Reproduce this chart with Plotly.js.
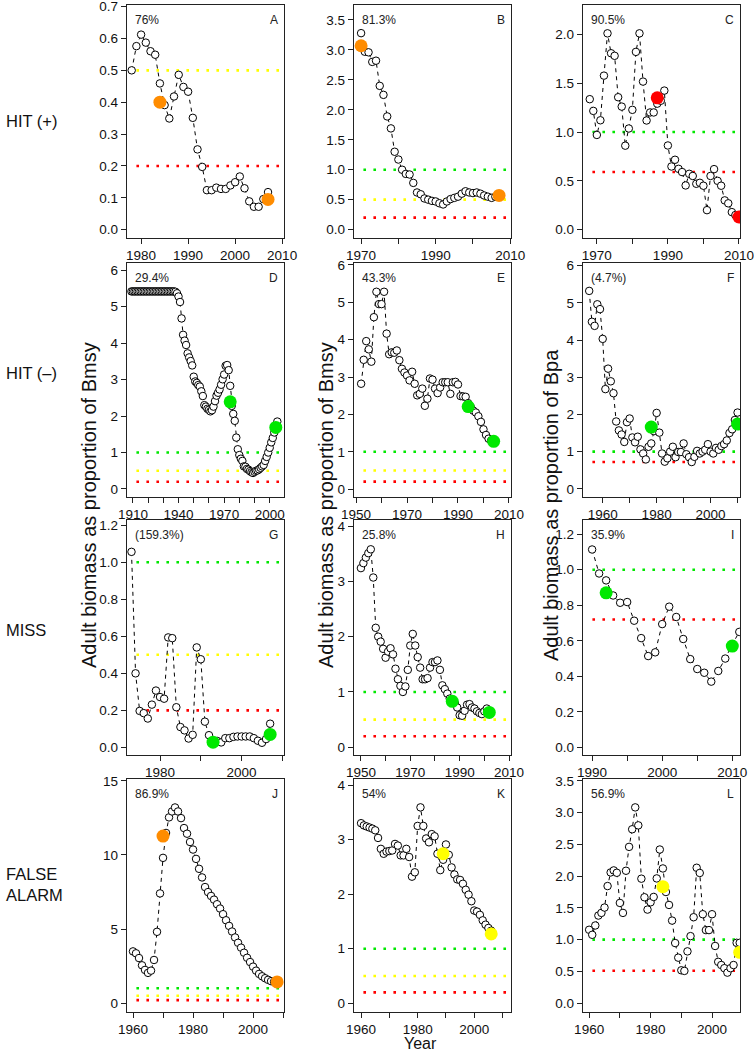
<!DOCTYPE html>
<html><head><meta charset="utf-8">
<script src="https://cdn.plot.ly/plotly-3.0.1.min.js"></script>
<style>html,body{margin:0;padding:0;background:#fff;}#chart{width:754px;height:1052px;}</style>
</head><body><div id="chart"></div>
<script>
// ---------------- DATA ----------------
const startA = 1978;
const biomassA = [0.50,0.576,0.612,0.587,0.56,0.549,0.459,0.391,0.349,0.418,0.486,0.448,0.433,0.351,0.252,0.197,0.124,0.124,0.132,0.128,0.128,0.139,0.149,0.167,0.13,0.089,0.072,0.072,0.096,0.118];
const markYearsA = [1984, 2007], markValsA = [0.40, 0.095];
const refA = [0.5, 0.2];

const startB = 1970;
const biomassB = [3.28,2.97,2.96,2.80,2.82,2.40,2.25,1.89,1.69,1.30,1.17,1.00,0.93,0.92,0.78,0.62,0.59,0.52,0.50,0.48,0.47,0.44,0.42,0.47,0.51,0.53,0.55,0.60,0.64,0.62,0.61,0.62,0.60,0.57,0.55,0.53,0.55,0.56];
const markYearsB = [1970, 2007], markValsB = [3.07, 0.57];
const refB = [1.0, 0.5, 0.2];

const startC = 1968;
const biomassC = [1.336,1.216,0.97,1.12,1.577,2.01,1.806,1.78,1.356,1.26,0.86,1.036,1.227,1.82,2.01,1.516,1.118,1.2,1.2,1.29,1.32,1.424,0.862,0.647,0.716,0.623,0.59,0.453,0.572,0.55,0.47,0.48,0.45,0.2,0.55,0.62,0.5,0.45,0.3,0.27,0.18,0.15,0.13];
const markYearsC = [1987, 2010], markValsC = [1.35, 0.13];
const refC = [1.0, 0.59];

const startD = 1909;
const biomassD = [5.42,5.42,5.42,5.42,5.42,5.42,5.42,5.42,5.42,5.42,5.42,5.42,5.42,5.42,5.42,5.42,5.42,5.42,5.42,5.42,5.42,5.42,5.42,5.42,5.42,5.42,5.42,5.42,5.42,
  5.41,5.37,5.28,5.13,4.68,4.23,4.07,3.95,3.72,3.61,3.51,3.39,3.08,2.95,2.91,2.85,2.81,2.68,2.55,2.30,2.26,2.20,2.17,2.13,2.16,2.26,2.41,2.56,2.64,2.73,2.86,3.01,3.14,3.38,3.40,3.26,2.83,2.28,2.06,1.87,1.41,1.09,0.93,0.83,0.77,0.62,0.61,0.55,0.53,0.49,0.46,0.44,0.47,0.50,0.51,0.54,0.58,0.62,0.66,0.77,0.88,1.00,1.13,1.28,1.40,1.55,1.72,1.85];
const markYearsD = [1974, 2004], markValsD = [2.39, 1.69];
const refD = [1.0, 0.5, 0.2];

const startE = 1952;
const biomassE = [2.82,3.46,3.96,3.74,3.41,4.60,5.28,4.95,4.95,5.28,4.16,3.61,3.66,3.65,3.71,3.45,3.22,3.12,3.04,2.91,3.14,2.82,2.51,2.55,2.69,2.23,2.42,2.96,2.93,2.69,2.57,2.72,2.86,2.86,2.86,2.55,2.86,2.87,2.80,2.49,2.48,2.47,2.30,2.20,2.10,2.05,1.95,1.80,1.60,1.45,1.35,1.30,1.25];
const markYearsE = [1994, 2004], markValsE = [2.21, 1.28];
const refE = [1.0, 0.5, 0.2];

const startF = 1955;
const biomassF = [5.32,4.49,4.38,4.96,4.83,4.03,2.68,3.23,2.89,2.57,1.81,1.57,1.46,1.26,1.79,1.89,1.38,1.25,1.40,1.06,0.95,0.79,1.13,1.22,1.55,2.04,1.51,0.95,0.73,0.82,1.00,1.13,0.85,0.99,0.99,1.22,0.93,0.85,0.72,0.86,1.02,0.95,1.0,1.05,1.2,1.0,0.95,1.1,1.05,1.15,1.2,1.3,1.5,1.6,1.85,2.05];
const markYearsF = [1978, 2010], markValsF = [1.66, 1.74];
const refF = [1.0, 0.72];

const startG = 1973;
const biomassG = [1.056,0.40,0.197,0.185,0.156,0.231,0.307,0.272,0.263,0.594,0.590,0.217,0.110,0.092,0.048,0.068,0.540,0.476,0.139,0.066,0.035,0.035,0.027,0.05,0.05,0.057,0.059,0.059,0.059,0.059,0.05,0.036,0.025,0.045,0.128];
const markYearsG = [1993, 2007], markValsG = [0.028, 0.07];
const refG = [1.0, 0.5, 0.2];

const startH = 1950;
const biomassH = [3.24,3.33,3.43,3.51,3.58,3.07,2.16,2.00,1.91,1.78,1.62,1.73,1.79,1.68,1.42,1.23,1.11,1.00,1.10,1.40,1.84,2.05,1.84,1.63,1.44,1.23,1.23,1.25,1.44,1.54,1.54,1.57,1.40,1.12,1.05,0.97,0.88,0.83,0.80,0.72,0.58,0.57,0.66,0.77,0.78,0.72,0.70,0.65,0.62,0.60,0.65,0.70];
const markYearsH = [1987, 2002], markValsH = [0.83, 0.63];
const refH = [1.0, 0.5, 0.2];

const startI = 1990;
const biomassI = [1.114,0.979,0.94,0.855,0.814,0.818,0.713,0.615,0.514,0.535,0.694,0.792,0.734,0.61,0.497,0.441,0.42,0.37,0.43,0.5,0.58,0.65];
const markYearsI = [1992, 2010], markValsI = [0.87, 0.57];
const refI = [1.0, 0.72];

const startJ = 1960;
const biomassJ = [3.49,3.36,3.04,2.55,2.24,2.04,2.19,2.91,4.81,7.40,9.80,11.48,12.53,12.93,13.2,12.93,12.48,11.81,11.43,10.87,10.36,9.73,9.06,8.48,7.83,7.49,7.23,6.98,6.67,6.38,6.0,5.59,5.21,4.83,4.43,4.07,3.74,3.40,3.06,2.77,2.46,2.19,1.97,1.81,1.68,1.57,1.48,1.44,1.42];
const markYearsJ = [1970, 2008], markValsJ = [11.27, 1.43];
const refJ = [1.0, 0.5, 0.2];

const startK = 1960;
const biomassK = [3.30,3.26,3.24,3.22,3.20,3.17,3.03,2.83,2.74,2.78,2.79,2.80,2.92,2.89,2.71,2.71,2.83,2.68,2.32,2.40,3.25,3.59,3.25,3.02,2.95,3.10,3.06,2.74,2.44,2.63,2.91,2.72,2.49,2.36,2.27,2.26,2.19,2.08,1.99,1.87,1.70,1.68,1.62,1.52,1.44,1.38,1.33];
const markYearsK = [1989, 2006], markValsK = [2.74, 1.27];
const refK = [1.0, 0.5, 0.2];

const startL = 1960;
const biomassL = [1.155,1.076,1.223,1.379,1.421,1.505,1.844,2.058,2.09,2.053,1.578,1.421,2.085,2.461,2.738,3.083,2.8,1.96,1.667,1.473,1.588,1.672,1.964,2.419,2.121,1.75,1.546,1.30,0.946,0.716,0.517,0.507,0.815,1.055,1.353,2.132,2.05,1.4,1.15,1.15,1.4,0.9,0.65,0.6,0.55,0.48,0.55,0.6,0.95,0.95];
const markYearsL = [1984, 2009], markValsL = [1.834, 0.8];
const refL = [1.0, 0.51];

const percentLabels = ['76%','81.3%','90.5%','29.4%','43.3%','(4.7%)','(159.3%)','25.8%','35.9%','86.9%','54%','56.9%'];
const panelLetters = ['A','B','C','D','E','F','G','H','I','J','K','L'];
const rowLabels = ['HIT (+)','HIT (–)','MISS','FALSE<br>ALARM'];
const yTitles = ['Adult biomass as proportion of Bmsy','Adult biomass as proportion of Bmsy','Adult biomass as proportion of Bpa'];
const xTitle = 'Year';

// ---------------- STYLE / LAYOUT ----------------
const W = 754, H = 1052;
const COL = {orange:'#FF8C00', red:'#FF0000', green:'#00E800', yellow:'#FFFF00'};
const colsPx = [[127,284],[354,511],[583,740]];
const rowsPx = [[5,238],[263,497],[520,755],[779,1012]];

function yticks(lo, hi, step, dec) {
  const v = [], t = [];
  for (let k = 0; lo + k*step <= hi + 1e-9; k++) { const val = +(lo + k*step).toFixed(4); v.push(val); t.push(val.toFixed(dec)); }
  return {v, t};
}

const panels = [
  {s:startA,v:biomassA,my:markYearsA,mv:markValsA,mc:COL.orange,ref:refA,refc:[COL.yellow,COL.red],xr:[1977.0,2010.4],yr:[-0.026,0.705],yt:yticks(0,0.7,0.1,1),xt:[1980,1990,2000,2010],xl:['1980','1990','2000','2010']},
  {s:startB,v:biomassB,my:markYearsB,mv:markValsB,mc:COL.orange,ref:refB,refc:[COL.green,COL.yellow,COL.red],xr:[1968.1,2010.2],yr:[-0.14,3.75],yt:yticks(0,3.5,0.5,1),xt:[1970,1980,1990,2000,2010],xl:['1970','','1990','','2010']},
  {s:startC,v:biomassC,my:markYearsC,mv:markValsC,mc:COL.red,ref:refC,refc:[COL.green,COL.red],xr:[1966.1,2010.3],yr:[-0.085,2.30],yt:yticks(0,2.0,0.5,1),xt:[1970,1980,1990,2000,2010],xl:['1970','','1990','','2010']},
  {s:startD,v:biomassD,my:markYearsD,mv:markValsD,mc:COL.green,ref:refD,refc:[COL.green,COL.yellow,COL.red],xr:[1906.1,2009.4],yr:[-0.22,6.2],yt:yticks(0,6,1,0),xt:[1910,1920,1930,1940,1950,1960,1970,1980,1990,2000],xl:['1910','','','1940','','','1970','','','2000']},
  {s:startE,v:biomassE,my:markYearsE,mv:markValsE,mc:COL.green,ref:refE,refc:[COL.green,COL.yellow,COL.red],xr:[1949.2,2010.8],yr:[-0.21,6.05],yt:yticks(0,6,1,0),xt:[1950,1960,1970,1980,1990,2000,2010],xl:['1950','','1970','','1990','','2010']},
  {s:startF,v:biomassF,my:markYearsF,mv:markValsF,mc:COL.green,ref:refF,refc:[COL.green,COL.red],xr:[1952.7,2010.9],yr:[-0.22,6.07],yt:yticks(0,6,1,0),xt:[1960,1970,1980,1990,2000,2010],xl:['1960','','1980','','2000','']},
  {s:startG,v:biomassG,my:markYearsG,mv:markValsG,mc:COL.green,ref:refG,refc:[COL.green,COL.yellow,COL.red],xr:[1971.9,2010.4],yr:[-0.041,1.228],yt:yticks(0,1.2,0.2,1),xt:[1980,1990,2000,2010],xl:['1980','','2000','']},
  {s:startH,v:biomassH,my:markYearsH,mv:markValsH,mc:COL.green,ref:refH,refc:[COL.green,COL.yellow,COL.red],xr:[1947.2,2010.8],yr:[-0.14,4.11],yt:yticks(0,4,1,0),xt:[1950,1960,1970,1980,1990,2000,2010],xl:['1950','','1970','','1990','','2010']},
  {s:startI,v:biomassI,my:markYearsI,mv:markValsI,mc:COL.green,ref:refI,refc:[COL.green,COL.red],xr:[1988.7,2011.1],yr:[-0.043,1.28],yt:yticks(0,1.2,0.2,1),xt:[1990,1995,2000,2005,2010],xl:['1990','','2000','','2010']},
  {s:startJ,v:biomassJ,my:markYearsJ,mv:markValsJ,mc:COL.orange,ref:refJ,refc:[COL.green,COL.yellow,COL.red],xr:[1958,2010.3],yr:[-0.6,15.12],yt:yticks(0,15,5,0),xt:[1960,1970,1980,1990,2000,2010],xl:['1960','','1980','','2000','']},
  {s:startK,v:biomassK,my:markYearsK,mv:markValsK,mc:COL.yellow,ref:refK,refc:[COL.green,COL.yellow,COL.red],xr:[1957.5,2013.0],yr:[-0.16,4.11],yt:yticks(0,4,1,0),xt:[1960,1970,1980,1990,2000,2010],xl:['1960','','1980','','2000','']},
  {s:startL,v:biomassL,my:markYearsL,mv:markValsL,mc:COL.yellow,ref:refL,refc:[COL.green,COL.red],xr:[1958,2009.1],yr:[-0.14,3.53],yt:yticks(0,3.5,0.5,1),xt:[1960,1970,1980,1990,2000],xl:['1960','','1980','','2000']}
];

const FONT = 'Liberation Sans, Arial, Helvetica, sans-serif';
const traces = [], shapes = [], annotations = [];
const layout = {width:W, height:H, margin:{l:0,r:0,t:0,b:0}, showlegend:false,
  paper_bgcolor:'#fff', plot_bgcolor:'#fff', font:{family:FONT, size:13.5, color:'#111'}};

panels.forEach((p, i) => {
  const r = Math.floor(i/3), c = i%3;
  const n = i === 0 ? '' : String(i+1);
  const xa = 'x'+n, ya = 'y'+n;
  const years = p.v.map((_, k) => p.s + k);
  const common = {showline:true, mirror:true, linecolor:'#222', linewidth:1.2, ticks:'outside', ticklen:5,
    tickcolor:'#222', tickwidth:1, showgrid:false, zeroline:false, tickfont:{size:13.5, family:FONT, color:'#111'},
    ticklabeloverflow:'allow'};
  layout['xaxis'+n] = Object.assign({}, common, {domain:[colsPx[c][0]/W, colsPx[c][1]/W], range:p.xr, anchor:ya,
    tickmode:'array', tickvals:p.xt, ticktext:p.xl});
  layout['yaxis'+n] = Object.assign({}, common, {domain:[1-rowsPx[r][1]/H, 1-rowsPx[r][0]/H], range:p.yr, anchor:xa,
    tickmode:'array', tickvals:p.yt.v, ticktext:p.yt.t});
  p.ref.forEach((lv, k) => {
    shapes.push({type:'line', xref:xa+' domain', yref:ya, x0:0.06, x1:1, y0:lv, y1:lv, layer:'below',
      line:{color:p.refc[k], width:2.6, dash:'2.6px,7.4px'}});
  });
  traces.push({x:years, y:p.v, xaxis:xa, yaxis:ya, type:'scatter', mode:'lines+markers', cliponaxis:true,
    line:{color:'#000', width:1, dash:'4px,4px'},
    marker:{symbol:'circle', size:7.5, color:'rgba(255,255,255,1)', line:{color:'#000', width:1}}});
  traces.push({x:p.my, y:p.mv, xaxis:xa, yaxis:ya, type:'scatter', mode:'markers',
    marker:{symbol:'circle', size:13, color:p.mc, line:{width:0}}});
  annotations.push({xref:xa+' domain', yref:ya+' domain', x:0.04, y:1, xanchor:'left', yanchor:'top', yshift:-6,
    text:percentLabels[i], showarrow:false, font:{size:12, color:'#222', family:FONT}});
  annotations.push({xref:xa+' domain', yref:ya+' domain', x:0.975, y:1, xanchor:'right', yanchor:'top', yshift:-6,
    text:panelLetters[i], showarrow:false, font:{size:12, color:'#222', family:FONT}});
});

// row labels
const rowLabelY = [121, 373, 630, 884];
rowLabels.forEach((t, k) => {
  annotations.push({xref:'paper', yref:'paper', x:4/W, y:1-rowLabelY[k]/H, xanchor:'left', yanchor:'middle', align:'left',
    text:t, showarrow:false, font:{size:16.5, color:'#111', family:FONT}});
});
// y titles
const yTitleX = [89, 326, 551];
yTitles.forEach((t, k) => {
  annotations.push({xref:'paper', yref:'paper', x:yTitleX[k]/W, y:1-505/H, xanchor:'center', yanchor:'middle', textangle:-90,
    text:t, showarrow:false, font:{size:20, color:'#111', family:FONT}});
});
annotations.push({xref:'paper', yref:'paper', x:421/W, y:1-1043/H, xanchor:'center', yanchor:'middle',
  text:xTitle, showarrow:false, font:{size:16, color:'#111', family:FONT}});

layout.shapes = shapes;
layout.annotations = annotations;
Plotly.newPlot('chart', traces, layout, {staticPlot:true, displayModeBar:false});
</script></body></html>
